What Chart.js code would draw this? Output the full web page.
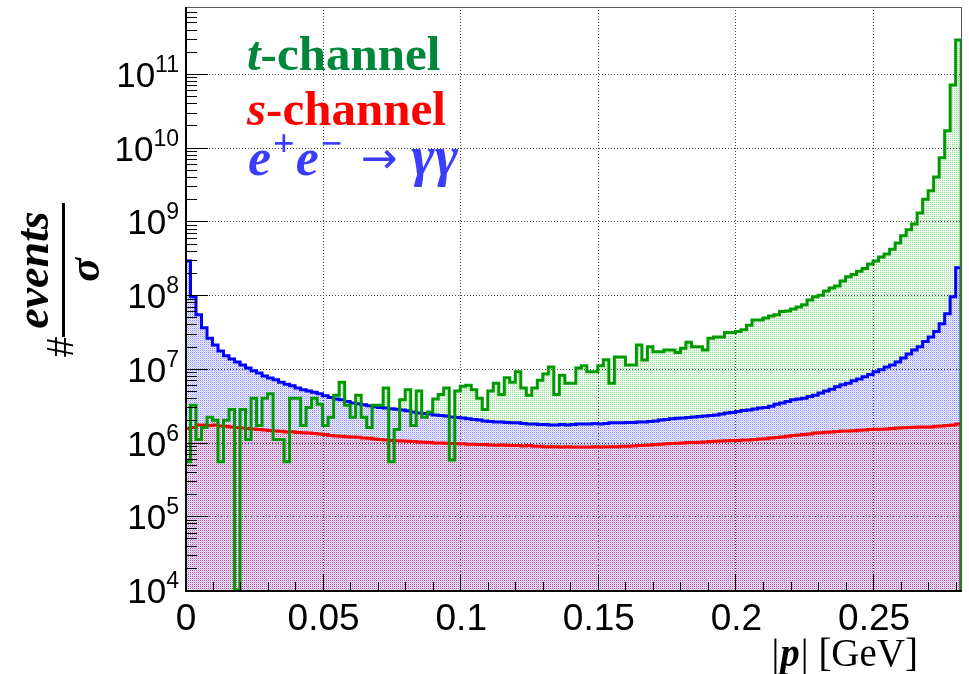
<!DOCTYPE html>
<html>
<head>
<meta charset="utf-8">
<script src="https://cdn.jsdelivr.net/npm/chart.js@4/dist/chart.umd.min.js"></script>
<style>
  html, body { margin: 0; padding: 0; background: #fff; }
  canvas { display: block; }
</style>
</head>
<body>
<canvas id="histo" width="969" height="674"></canvas>
<script>
// ─── DATA ─────────────────────────────────────────────────────────
// |p| histogram, bin width 0.002 GeV, 141 bins from 0 to 0.282
const BIN_W = 0.002;
const X_MAX = 0.2823;
const Y_MIN = 1e4;
const Y_MAX = 8.1e11;

const xTickValues = [0, 0.05, 0.1, 0.15, 0.2, 0.25];
const xTickLabels = ['0', '0.05', '0.1', '0.15', '0.2', '0.25'];
const yTickExponents = [4, 5, 6, 7, 8, 9, 10, 11];

// e+e- -> gamma gamma (blue)
const eeGG = [
  2.9e8, 9.5e7, 5.4e7, 3.6e7, 2.6e7, 2.1e7, 1.75e7, 1.5e7, 1.36e7, 1.24e7,
  1.13e7, 1.03e7, 9.4e6, 8.8e6, 8.0e6, 7.5e6, 7.1e6, 6.6e6, 6.2e6, 5.9e6,
  5.5e6, 5.2e6, 5.0e6, 4.8e6, 4.6e6, 4.3e6, 4.1e6, 3.9e6, 3.8e6, 3.6e6,
  3.45e6, 3.35e6, 3.25e6, 3.15e6, 3.05e6, 3.0e6, 2.95e6, 2.88e6, 2.82e6, 2.77e6,
  2.7e6, 2.6e6, 2.52e6, 2.48e6, 2.44e6, 2.37e6, 2.33e6, 2.29e6, 2.22e6, 2.19e6,
  2.16e6, 2.1e6, 2.06e6, 2.02e6, 1.96e6, 1.93e6, 1.9e6, 1.9e6, 1.87e6, 1.85e6,
  1.85e6, 1.82e6, 1.79e6, 1.79e6, 1.76e6, 1.76e6, 1.73e6, 1.73e6, 1.76e6, 1.73e6,
  1.76e6, 1.79e6, 1.79e6, 1.79e6, 1.82e6, 1.79e6, 1.82e6, 1.85e6, 1.85e6, 1.85e6,
  1.87e6, 1.87e6, 1.9e6, 1.9e6, 1.93e6, 1.96e6, 2.02e6, 2.06e6, 2.1e6, 2.13e6,
  2.16e6, 2.19e6, 2.22e6, 2.25e6, 2.29e6, 2.33e6, 2.37e6, 2.44e6, 2.52e6, 2.56e6,
  2.64e6, 2.73e6, 2.77e6, 2.86e6, 2.95e6, 3.0e6, 3.1e6, 3.3e6, 3.45e6, 3.6e6,
  3.8e6, 3.9e6, 4.0e6, 4.2e6, 4.4e6, 4.7e6, 5.0e6, 5.3e6, 5.7e6, 6.1e6,
  6.4e6, 6.9e6, 7.3e6, 7.8e6, 8.4e6, 9.1e6, 9.7e6, 1.06e7, 1.13e7, 1.24e7,
  1.4e7, 1.59e7, 1.8e7, 2.0e7, 2.35e7, 2.7e7, 3.2e7, 4.1e7, 5.6e7, 9.5e7,
  2.35e8,
];

// s-channel (red)
const sChannel = [
  1.55e6, 1.6e6, 1.73e6, 1.73e6, 1.7e6, 1.73e6, 1.68e6, 1.66e6, 1.63e6, 1.6e6,
  1.58e6, 1.55e6, 1.53e6, 1.5e6, 1.48e6, 1.46e6, 1.44e6, 1.42e6, 1.39e6, 1.4e6,
  1.37e6, 1.36e6, 1.35e6, 1.33e6, 1.31e6, 1.29e6, 1.25e6, 1.23e6, 1.22e6, 1.2e6,
  1.19e6, 1.18e6, 1.15e6, 1.14e6, 1.12e6, 1.1e6, 1.08e6, 1.07e6, 1.06e6, 1.05e6,
  1.04e6, 1.03e6, 1.02e6, 1.01e6, 1.0e6, 9.9e5, 9.9e5, 9.8e5, 9.7e5, 9.6e5,
  9.6e5, 9.5e5, 9.5e5, 9.4e5, 9.4e5, 9.3e5, 9.2e5, 9.3e5, 9.2e5, 9.1e5,
  9.1e5, 9.0e5, 9.1e5, 8.9e5, 8.9e5, 8.8e5, 8.8e5, 8.8e5, 8.7e5, 8.8e5,
  8.7e5, 8.7e5, 8.7e5, 8.7e5, 8.8e5, 8.7e5, 8.8e5, 8.8e5, 8.8e5, 8.9e5,
  8.9e5, 9.0e5, 9.1e5, 9.2e5, 9.3e5, 9.4e5, 9.5e5, 9.6e5, 9.7e5, 9.8e5,
  9.9e5, 1.0e6, 1.0e6, 1.01e6, 1.02e6, 1.03e6, 1.04e6, 1.05e6, 1.06e6, 1.07e6,
  1.07e6, 1.08e6, 1.08e6, 1.1e6, 1.12e6, 1.13e6, 1.15e6, 1.17e6, 1.19e6, 1.22e6,
  1.25e6, 1.27e6, 1.29e6, 1.31e6, 1.35e6, 1.36e6, 1.38e6, 1.39e6, 1.41e6, 1.43e6,
  1.44e6, 1.45e6, 1.47e6, 1.48e6, 1.5e6, 1.51e6, 1.52e6, 1.53e6, 1.55e6, 1.58e6,
  1.59e6, 1.6e6, 1.61e6, 1.62e6, 1.63e6, 1.63e6, 1.66e6, 1.68e6, 1.7e6, 1.73e6,
  1.79e6,
];

// t-channel (green)
const tChannel = [
  5.5e5, 3.2e6, 1.1e6, 1.6e6, 2.2e6, 2.0e6, 5.5e5, 2.0e6, 2.8e6, 1e4,
  2.8e6, 1.1e6, 4.0e6, 1.7e6, 4.0e6, 4.6e6, 1.1e6, 1.1e6, 5.5e5, 4.0e6,
  4.0e6, 1.7e6, 3.0e6, 4.0e6, 3.3e6, 1.7e6, 2.2e6, 4.4e6, 6.6e6, 3.2e6,
  2.2e6, 4.4e6, 2.2e6, 1.6e6, 3.2e6, 3.2e6, 5.5e6, 5.5e5, 1.5e6, 3.8e6,
  5.2e6, 1.7e6, 5.0e6, 2.2e6, 2.6e6, 3.9e6, 4.5e6, 5.5e6, 5.8e5, 5.0e6,
  5.8e6, 6.0e6, 5.2e6, 4.0e6, 2.8e6, 5.0e6, 6.4e6, 4.5e6, 7.6e6, 6.6e6,
  9.1e6, 5.5e6, 4.4e6, 5.5e6, 7.0e6, 8.5e6, 1.06e7, 4.5e6, 8.2e6, 6.4e6,
  6.4e6, 1.03e7, 1.1e7, 9.1e6, 9.1e6, 1.1e7, 1.33e7, 6.4e6, 1.45e7, 1.45e7,
  1.13e7, 1.13e7, 2.1e7, 1.32e7, 2.0e7, 1.7e7, 1.7e7, 1.8e7, 1.8e7, 1.66e7,
  1.9e7, 2.3e7, 2.0e7, 2.0e7, 1.8e7, 2.6e7, 2.7e7, 2.7e7, 3.1e7, 3.1e7,
  3.2e7, 3.4e7, 3.9e7, 4.6e7, 4.6e7, 4.9e7, 5.2e7, 5.4e7, 6.0e7, 6.1e7,
  6.5e7, 6.9e7, 7.4e7, 8.6e7, 9.5e7, 1.0e8, 1.14e8, 1.25e8, 1.33e8, 1.56e8,
  1.77e8, 1.9e8, 2.1e8, 2.3e8, 2.65e8, 2.9e8, 3.3e8, 3.6e8, 4.2e8, 5.1e8,
  6.4e8, 7.7e8, 9.2e8, 1.3e9, 2.0e9, 2.6e9, 4.0e9, 7.3e9, 1.7e10, 7.1e10,
  2.9e11,
];

// ─── HELPERS ──────────────────────────────────────────────────────
// bin contents -> step outline points (closed down to the axis at both ends)
function toSteps(vals) {
  const pts = [{ x: 0, y: Y_MIN }];
  vals.forEach((v, i) => pts.push({ x: i * BIN_W, y: v }));
  const xEnd = vals.length * BIN_W;
  pts.push({ x: xEnd, y: vals[vals.length - 1] });
  pts.push({ x: xEnd, y: Y_MIN });
  return pts;
}

// small repeating pixel patterns, ROOT style fill hatches
function makePattern(cells) {
  const c = document.createElement('canvas');
  c.width = cells[0].length;
  c.height = cells.length;
  const g = c.getContext('2d');
  cells.forEach((row, y) => row.forEach((col, x) => {
    if (col) { g.fillStyle = col; g.fillRect(x, y, 1, 1); }
  }));
  return g.createPattern(c, 'repeat');
}

const greenFill = makePattern([
  ['rgba(0,170,0,0.42)', 'rgba(150,220,150,0.22)'],
  ['rgba(150,220,150,0.22)', null],
]);
const blueFill = makePattern([
  ['#8c8cff', '#f0f0ff'],
  ['#f0f0ff', '#c8c8ff'],
]);
const redFill = makePattern([
  ['rgba(255,0,0,0.38)', 'rgba(255,160,195,0.25)'],
  ['rgba(255,160,195,0.25)', null],
]);

// stepped 'before' in Chart.js: hold previous value, then jump at the next bin edge
const fillSet = (vals, bg, order) => ({
  data: toSteps(vals), stepped: 'before', fill: 'start',
  backgroundColor: bg, borderWidth: 0, order,
});
const lineSet = (vals, color, order) => ({
  data: toSteps(vals), stepped: 'before', fill: false,
  borderColor: color, borderWidth: 3, borderJoinStyle: 'miter', order,
});

// ─── FRAME, GRID, TICKS, LABELS ──────────────────────────────────
function drawRuns(ctx, x, y, runs) {
  runs.forEach(r => {
    ctx.font = r.font;
    x += r.pre || 0;
    ctx.fillText(r.text, x, y - (r.rise || 0));
    x += ctx.measureText(r.text).width + (r.gap || 0);
  });
}
function runsWidth(ctx, runs) {
  return runs.reduce((w, r) => {
    ctx.font = r.font;
    return w + (r.pre || 0) + ctx.measureText(r.text).width + (r.gap || 0);
  }, 0);
}

const rootFrame = {
  id: 'rootFrame',
  beforeDatasetsDraw(chart) {
    const { ctx, chartArea: a, scales: { x, y } } = chart;
    ctx.save();
    ctx.strokeStyle = '#444';
    ctx.lineWidth = 1;
    ctx.setLineDash([1, 2]);
    xTickValues.forEach(v => {
      if (v === 0) return;
      const px = Math.round(x.getPixelForValue(v)) + 0.5;
      ctx.beginPath(); ctx.moveTo(px, a.top); ctx.lineTo(px, a.bottom); ctx.stroke();
    });
    yTickExponents.forEach(e => {
      if (e === 4) return;
      const py = Math.round(y.getPixelForValue(Math.pow(10, e))) + 0.5;
      ctx.beginPath(); ctx.moveTo(a.left, py); ctx.lineTo(a.right, py); ctx.stroke();
    });
    ctx.restore();
  },
  afterDatasetsDraw(chart) {
    const { ctx, chartArea: a, scales: { x, y } } = chart;
    ctx.save();
    ctx.strokeStyle = '#000';
    ctx.lineWidth = 1;
    // log-axis ticks pointing inward
    for (let e = 4; e <= 11; e++) {
      for (let m = 1; m <= 9; m++) {
        const v = m * Math.pow(10, e);
        if (v < Y_MIN || v > Y_MAX) continue;
        const py = Math.round(y.getPixelForValue(v)) + 0.5;
        ctx.beginPath(); ctx.moveTo(a.left, py); ctx.lineTo(a.left + (m === 1 ? 23 : 12), py); ctx.stroke();
      }
    }
    for (let k = 0; k <= 28; k++) {
      const px = Math.round(x.getPixelForValue(k * 0.01)) + 0.5;
      ctx.beginPath(); ctx.moveTo(px, a.bottom); ctx.lineTo(px, a.bottom - (k % 5 === 0 ? 16 : 8)); ctx.stroke();
    }
    // frame
    ctx.strokeStyle = '#555';
    ctx.strokeRect(a.left + 0.5, a.top + 0.5, a.right - a.left - 1, a.bottom - a.top);
    ctx.strokeStyle = '#000';
    ctx.lineWidth = 2;
    ctx.beginPath();
    ctx.moveTo(a.left + 1, a.top); ctx.lineTo(a.left + 1, a.bottom + 1); ctx.lineTo(a.right, a.bottom + 1);
    ctx.stroke();
    ctx.restore();
  },
  afterDraw(chart) {
    const { ctx, scales: { x, y } } = chart;
    ctx.save();
    ctx.fillStyle = '#000';
    ctx.textBaseline = 'alphabetic';
    const sans = '"Liberation Sans", Arial, sans-serif';
    const serif = '"Liberation Serif", "DejaVu Serif", serif';

    // y tick labels 10^n
    ctx.textAlign = 'left';
    yTickExponents.forEach(e => {
      const py = y.getPixelForValue(Math.pow(10, e));
      const ex = String(e);
      ctx.font = `23px ${sans}`;
      const wE = ctx.measureText(ex).width;
      ctx.font = `35px ${sans}`;
      const w10 = ctx.measureText('10').width;
      ctx.fillText('10', 179 - wE - w10, py + 13);
      ctx.font = `23px ${sans}`;
      ctx.fillText(ex, 179 - wE, py - 2);
    });

    // x tick labels
    ctx.textAlign = 'center';
    ctx.font = `37px ${sans}`;
    xTickValues.forEach((v, i) => {
      ctx.fillText(xTickLabels[i], x.getPixelForValue(v) + 1, 630);
    });

    // x title: |p| [GeV]
    ctx.textAlign = 'left';
    const xTitle = [
      { text: '|', font: `39px ${serif}`, gap: 1 },
      { text: 'p', font: `bold italic 39px ${serif}`, gap: 1 },
      { text: '| [GeV]', font: `39px ${serif}` },
    ];
    drawRuns(ctx, 918 - runsWidth(ctx, xTitle), 666, xTitle);

    // y title: # events / sigma, rotated
    ctx.save();
    ctx.rotate(-Math.PI / 2);
    ctx.textAlign = 'center';
    ctx.font = `bold italic 46px ${serif}`;
    ctx.fillText('events', -270, 48);
    ctx.font = `bold italic 44px ${serif}`;
    ctx.fillText('σ', -270, 99);
    ctx.font = `36px ${sans}`;
    ctx.fillText('#', -347, 73);
    ctx.restore();
    ctx.fillRect(62, 203, 3, 134);

    // in-plot labels
    const big = 49;
    ctx.fillStyle = '#00873c';
    drawRuns(ctx, 247, 70, [
      { text: 't', font: `bold italic ${big}px ${serif}` },
      { text: '-channel', font: `bold ${big}px ${serif}` },
    ]);
    ctx.fillStyle = '#ff0000';
    drawRuns(ctx, 247, 125, [
      { text: 's', font: `bold italic ${big}px ${serif}` },
      { text: '-channel', font: `bold ${big}px ${serif}` },
    ]);
    ctx.fillStyle = '#3c3cff';
    drawRuns(ctx, 248, 175, [
      { text: 'e', font: `bold italic 52px ${serif}`, gap: 2 },
      { text: '+', font: `bold 38px ${serif}`, rise: 19, gap: 1 },
      { text: 'e', font: `bold italic 52px ${serif}`, gap: 2 },
      { text: '−', font: `bold 38px ${serif}`, rise: 19 },
      { text: '→', font: `44px "DejaVu Sans", sans-serif`, pre: 18, rise: 2 },
      { text: 'γγ', font: `bold italic 56px ${serif}`, pre: 14 },
    ]);
    ctx.restore();
  },
};

// ─── CHART ────────────────────────────────────────────────────────
new Chart(document.getElementById('histo'), {
  type: 'line',
  data: {
    datasets: [
      fillSet(tChannel, greenFill, 30),
      fillSet(eeGG, blueFill, 20),
      fillSet(sChannel, redFill, 10),
      lineSet(sChannel, '#ff0000', 3),
      lineSet(eeGG, '#0000ff', 2),
      lineSet(tChannel, '#009a00', 1),
    ],
  },
  options: {
    responsive: false,
    animation: false,
    devicePixelRatio: 1,
    layout: { padding: { left: 185, top: 7, right: 7, bottom: 84 } },
    scales: {
      x: { type: 'linear', min: 0, max: X_MAX, display: false },
      y: { type: 'logarithmic', min: Y_MIN, max: Y_MAX, display: false },
    },
    elements: { point: { radius: 0 }, line: { tension: 0 } },
    plugins: {
      legend: { display: false },
      tooltip: { enabled: false },
      filler: { drawTime: 'beforeDatasetsDraw' },
    },
  },
  plugins: [rootFrame],
});
</script>
</body>
</html>
